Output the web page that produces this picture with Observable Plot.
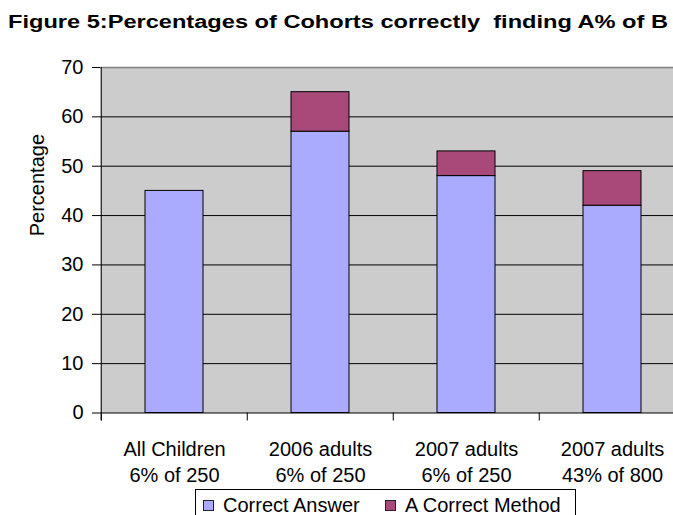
<!DOCTYPE html>
<html><head><meta charset="utf-8">
<script src="https://cdn.jsdelivr.net/npm/d3@7"></script>
<script src="https://cdn.jsdelivr.net/npm/@observablehq/plot@0.6"></script>
<style>
html,body{margin:0;padding:0;background:#fff;overflow:hidden;width:673px;height:515px}
body{font-family:"Liberation Sans",Arial,sans-serif;position:relative;color:#000}
#title{height:40px;box-sizing:border-box;padding-top:13px;padding-left:8px;font-weight:bold;font-size:18px;line-height:18px;white-space:pre}
#title span{display:inline-block;transform-origin:0 0}
#chart svg{display:block;overflow:visible}
#legend{position:absolute;left:195px;top:489px;width:381px;height:40px;border:1px solid #000;box-sizing:border-box;background:#fff;font-size:20px;line-height:17px}
.sw{position:absolute;top:10px;width:11px;height:11px;box-sizing:border-box;border:1px solid #222}
.lt{position:absolute;top:7px;height:17px;white-space:nowrap}
</style>
</head><body>
<div id="title"><span id="title-text"></span></div>
<div id="chart"></div>
<div id="legend"></div>
<script>
const titleText = "Figure 5:Percentages of Cohorts correctly  finding A% of B";
const categories = ["All Children\n6% of 250", "2006 adults\n6% of 250", "2007 adults\n6% of 250", "2007 adults\n43% of 800"];
const correctAnswer = [45, 57, 48, 42];
const correctMethod = [0, 8, 5, 7];
const seriesNames = ["Correct Answer", "A Correct Method"];
const seriesColors = ["#aaaaff", "#a8497a"];
const yTicks = [0, 10, 20, 30, 40, 50, 60, 70];
const yLabel = "Percentage";

const rows = [];
categories.forEach((c, i) => {
  rows.push({category: c, series: seriesNames[0], value: correctAnswer[i]});
  rows.push({category: c, series: seriesNames[1], value: correctMethod[i]});
});
const barRows = rows.filter(d => d.value > 0);

const ts = document.getElementById("title-text");
ts.textContent = titleText;
const tw = ts.getBoundingClientRect().width;
ts.style.transform = `scaleX(${660 / tw})`;

const tickUnits = 8 / (345.5 / 70);
const halfStep = 73.25;

const chart = Plot.plot({
  width: 673,
  height: 449,
  marginTop: 27,
  marginBottom: 76.5,
  marginLeft: 100,
  marginRight: -13,
  style: {fontFamily: "'Liberation Sans', Arial, sans-serif", fontSize: "20px", background: "transparent", overflow: "visible", color: "#000"},
  x: {domain: categories, paddingInner: 0.6, paddingOuter: 0.3, align: 0.5, axis: null},
  y: {domain: [0, 70], axis: null},
  color: {domain: seriesNames, range: seriesColors},
  marks: [
    Plot.frame({fill: "#cccccc", stroke: null}),
    Plot.ruleY(yTicks.filter(d => d > 0 && d < 70), {stroke: "#000", strokeWidth: 1}),
    Plot.ruleY([70], {stroke: "#808080", strokeWidth: 1.5}),
    Plot.barY(barRows, {x: "category", y: "value", fill: "series", stroke: "#000", strokeWidth: 1}),
    Plot.ruleY([0], {stroke: "#000", strokeWidth: 1}),
    Plot.ruleX(categories, {x: d => d, y1: 0, y2: -tickUnits, dx: -halfStep, stroke: "#000"}),
    Plot.ruleX([categories[0]], {x: d => d, y1: -tickUnits, y2: 70, dx: -halfStep, stroke: "#000"}),
    Plot.axisY({ticks: yTicks, tickSize: 8, tickPadding: 9, fontSize: 20, label: null, tickFormat: d => String(d)}),
    Plot.text(categories, {x: d => d, text: d => d, frameAnchor: "bottom", lineAnchor: "top", dy: 25, lineHeight: 1.3, fontSize: 20}),
    Plot.text([yLabel], {text: d => d, frameAnchor: "left", rotate: -90, dx: -63, dy: -4, fontSize: 20})
  ]
});
document.getElementById("chart").appendChild(chart);

const legend = document.getElementById("legend");
const swLeft = [7, 189];
const txtLeft = [27, 209];
seriesNames.forEach((name, i) => {
  const sw = document.createElement("div");
  sw.className = "sw";
  sw.style.left = swLeft[i] + "px";
  sw.style.background = seriesColors[i];
  legend.appendChild(sw);
  const t = document.createElement("span");
  t.className = "lt";
  t.style.left = txtLeft[i] + "px";
  t.textContent = name;
  legend.appendChild(t);
});
</script>
</body></html>
